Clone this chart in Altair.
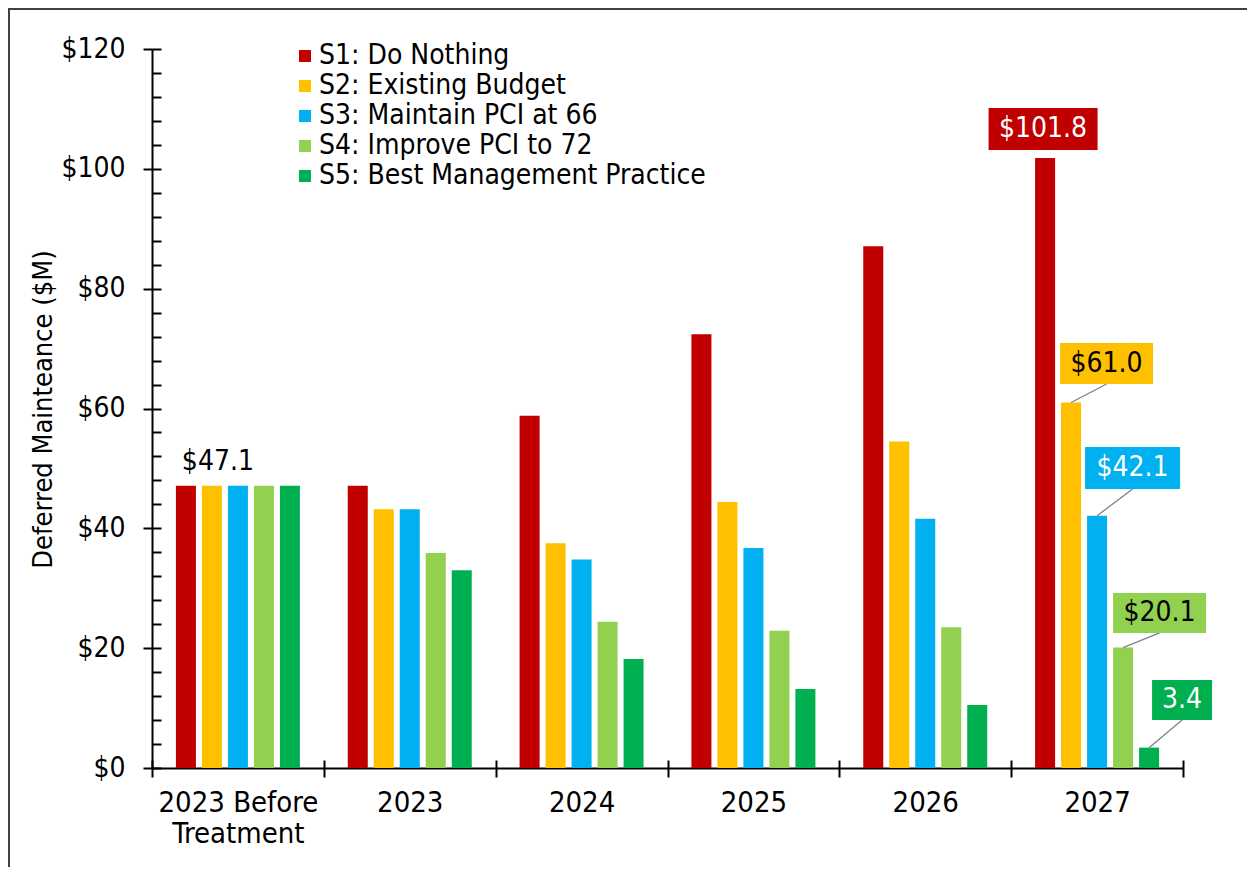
import altair as alt
import pandas as pd

# ---------------- data ----------------
categories = ["2023 Before Treatment", "2023", "2024", "2025", "2026", "2027"]
series_names = [
    "S1: Do Nothing",
    "S2: Existing Budget",
    "S3: Maintain PCI at 66",
    "S4: Improve PCI to 72",
    "S5: Best Management Practice",
]
series_colors = ["#C00000", "#FFC000", "#00B0F0", "#92D050", "#00B050"]

s1_do_nothing = [47.1, 47.1, 58.8, 72.4, 87.1, 101.8]
s2_existing_budget = [47.1, 43.2, 37.5, 44.4, 54.5, 61.0]
s3_maintain_pci = [47.1, 43.2, 34.8, 36.7, 41.6, 42.1]
s4_improve_pci = [47.1, 35.9, 24.4, 22.9, 23.5, 20.1]
s5_best_practice = [47.1, 33.0, 18.2, 13.2, 10.5, 3.4]

y_major_ticks = [0, 20, 40, 60, 80, 100, 120]
y_minor_ticks = [0, 4, 8, 12, 16, 20, 24, 28, 32, 36, 40, 44, 48, 52, 56, 60,
                 64, 68, 72, 76, 80, 84, 88, 92, 96, 100, 104, 108, 112, 116, 120]

label_prefix = ["$", "$", "$", "$", ""]
label_text_colors = ["white", "black", "white", "black", "white"]

# ---------------- styling of the 2027 call-outs (pixels, relative to bar top) ----------------
box_dx = [-2, 35.5, 35.5, 36.5, 33]
box_dy = [-29, -39, -47.7, -34.6, -47.6]
box_w = [109, 93, 95, 93, 60]
box_h = [42, 41, 42, 40, 40]

values_by_series = [s1_do_nothing, s2_existing_budget, s3_maintain_pci,
                    s4_improve_pci, s5_best_practice]
rows = []
for name, vals in zip(series_names, values_by_series):
    for cat, v in zip(categories, vals):
        rows.append({"category": cat, "series": name, "value": v})
df = pd.DataFrame(rows)

W, H = 1031, 719
FONT = "DejaVu Sans Condensed"
FS = 28

x_scale = alt.Scale(domain=categories, paddingInner=0, paddingOuter=0)
xo_scale = alt.Scale(domain=series_names, paddingInner=0.23, paddingOuter=0.92)
y_scale = alt.Scale(domain=[0, 120], nice=False, zero=True)


def pos(x_axis=None, y_axis=None):
    return dict(
        x=alt.X("category:N", scale=x_scale, axis=x_axis, sort=categories),
        xOffset=alt.XOffset("series:N", scale=xo_scale, sort=series_names),
        y=alt.Y("value:Q", scale=y_scale, axis=y_axis),
    )


x_axis_bottom = alt.Axis(
    orient="bottom", title=None, tickBand="extent", tickSize=9, tickWidth=2,
    tickColor="black", domainColor="black", domainWidth=2, labelAngle=0,
    labelFont=FONT, labelFontSize=29, labelColor="black", labelPadding=11,
    labelLineHeight=31, labelBaseline="top",
    labelExpr="datum.label == '2023 Before Treatment' ? ['2023 Before', 'Treatment'] : datum.label",
)
x_axis_top = alt.Axis(
    orient="top", offset=-H, title=None, labels=False, domain=False,
    tickBand="extent", tickSize=8, tickWidth=2, tickColor="black",
)
y_axis_left = alt.Axis(
    orient="left", values=y_major_ticks, tickSize=9, tickWidth=2,
    tickColor="black", domainColor="black", domainWidth=2,
    labelFont=FONT, labelFontSize=FS, labelColor="black", labelPadding=18,
    labelFlush=False, labelOverlap=False,
    labelExpr="'$' + datum.value",
    title="Deferred Mainteance ($M)", titleFont=FONT, titleFontSize=27,
    titleFontWeight="normal", titleColor="black", titleAngle=270,
    titleX=-109, titleY=360, titleAlign="center", titleBaseline="middle",
)
y_axis_minor = alt.Axis(
    orient="right", offset=-W, values=y_minor_ticks, tickSize=9, tickWidth=2,
    tickColor="black", labels=False, domain=False, title=None,
)

legend = alt.Legend(
    orient="none", legendX=139, legendY=-7, title=None, symbolType="square",
    symbolSize=144, symbolStrokeWidth=0, labelFont=FONT, labelFontSize=28,
    labelColor="black", labelOffset=0, rowPadding=2, padding=0, labelLimit=0,
)

frame = alt.Chart(pd.DataFrame({"f": [0]})).mark_rect(
    fillOpacity=0, stroke="#404040", strokeWidth=2
).encode(
    x=alt.value(-143), x2=alt.value(W + 66), y=alt.value(-40), y2=alt.value(H + 100)
)

bars = alt.Chart(df).mark_bar().encode(
    **pos(x_axis_bottom, y_axis_left),
    color=alt.Color("series:N", scale=alt.Scale(domain=series_names, range=series_colors),
                    legend=legend),
)

tick_layer = alt.Chart(df).mark_bar(opacity=0).encode(**pos(x_axis_top, y_axis_minor))

ann_first = (
    alt.Chart(df)
    .transform_filter(alt.datum.category == categories[0])
    .transform_filter(alt.datum.series == series_names[1])
    .transform_calculate(label="'$' + format(datum.value, '.1f')")
    .mark_text(dx=6, dy=-16, align="center", baseline="alphabetic",
               font=FONT, fontSize=FS, color="black")
    .encode(**pos(), text="label:N")
)

ann_layers = []
for i, name in enumerate(series_names):
    sub = (
        alt.Chart(df)
        .transform_filter(alt.datum.category == categories[-1])
        .transform_filter(alt.datum.series == name)
    )
    dx, dy, w, h = box_dx[i], box_dy[i], box_w[i], box_h[i]
    if i > 0:
        leader = sub.mark_point(
            shape=f"M0,0L{dx},{dy + h / 2}", size=4, filled=False,
            stroke="#7F7F8F", strokeWidth=1.3, opacity=1,
        ).encode(**pos())
        ann_layers.append(leader)
    rect_path = (f"M{dx - w / 2},{dy - h / 2}H{dx + w / 2}V{dy + h / 2}"
                 f"H{dx - w / 2}Z")
    box = sub.mark_point(
        shape=rect_path, size=4, filled=True, fill=series_colors[i],
        strokeWidth=0, opacity=1,
    ).encode(**pos())
    txt = sub.transform_calculate(
        label=f"'{label_prefix[i]}' + format(datum.value, '.1f')"
    ).mark_text(
        dx=dx, dy=dy, align="center", baseline="middle", font=FONT,
        fontSize=FS, color=label_text_colors[i],
    ).encode(**pos(), text="label:N")
    ann_layers += [box, txt]

chart = (
    alt.layer(frame, bars, tick_layer, ann_first, *ann_layers)
    .resolve_axis(x="independent", y="independent")
    .properties(
        width=W, height=H,
        padding={"left": 144, "top": 41, "right": 64, "bottom": 99},
        autosize=alt.AutoSizeParams(type="none"),
    )
    .configure(font=FONT)
    .configure_view(stroke=None)
    .configure_axis(grid=False)
)

chart.save("out.html", embed_options={"renderer": "svg", "actions": False})
